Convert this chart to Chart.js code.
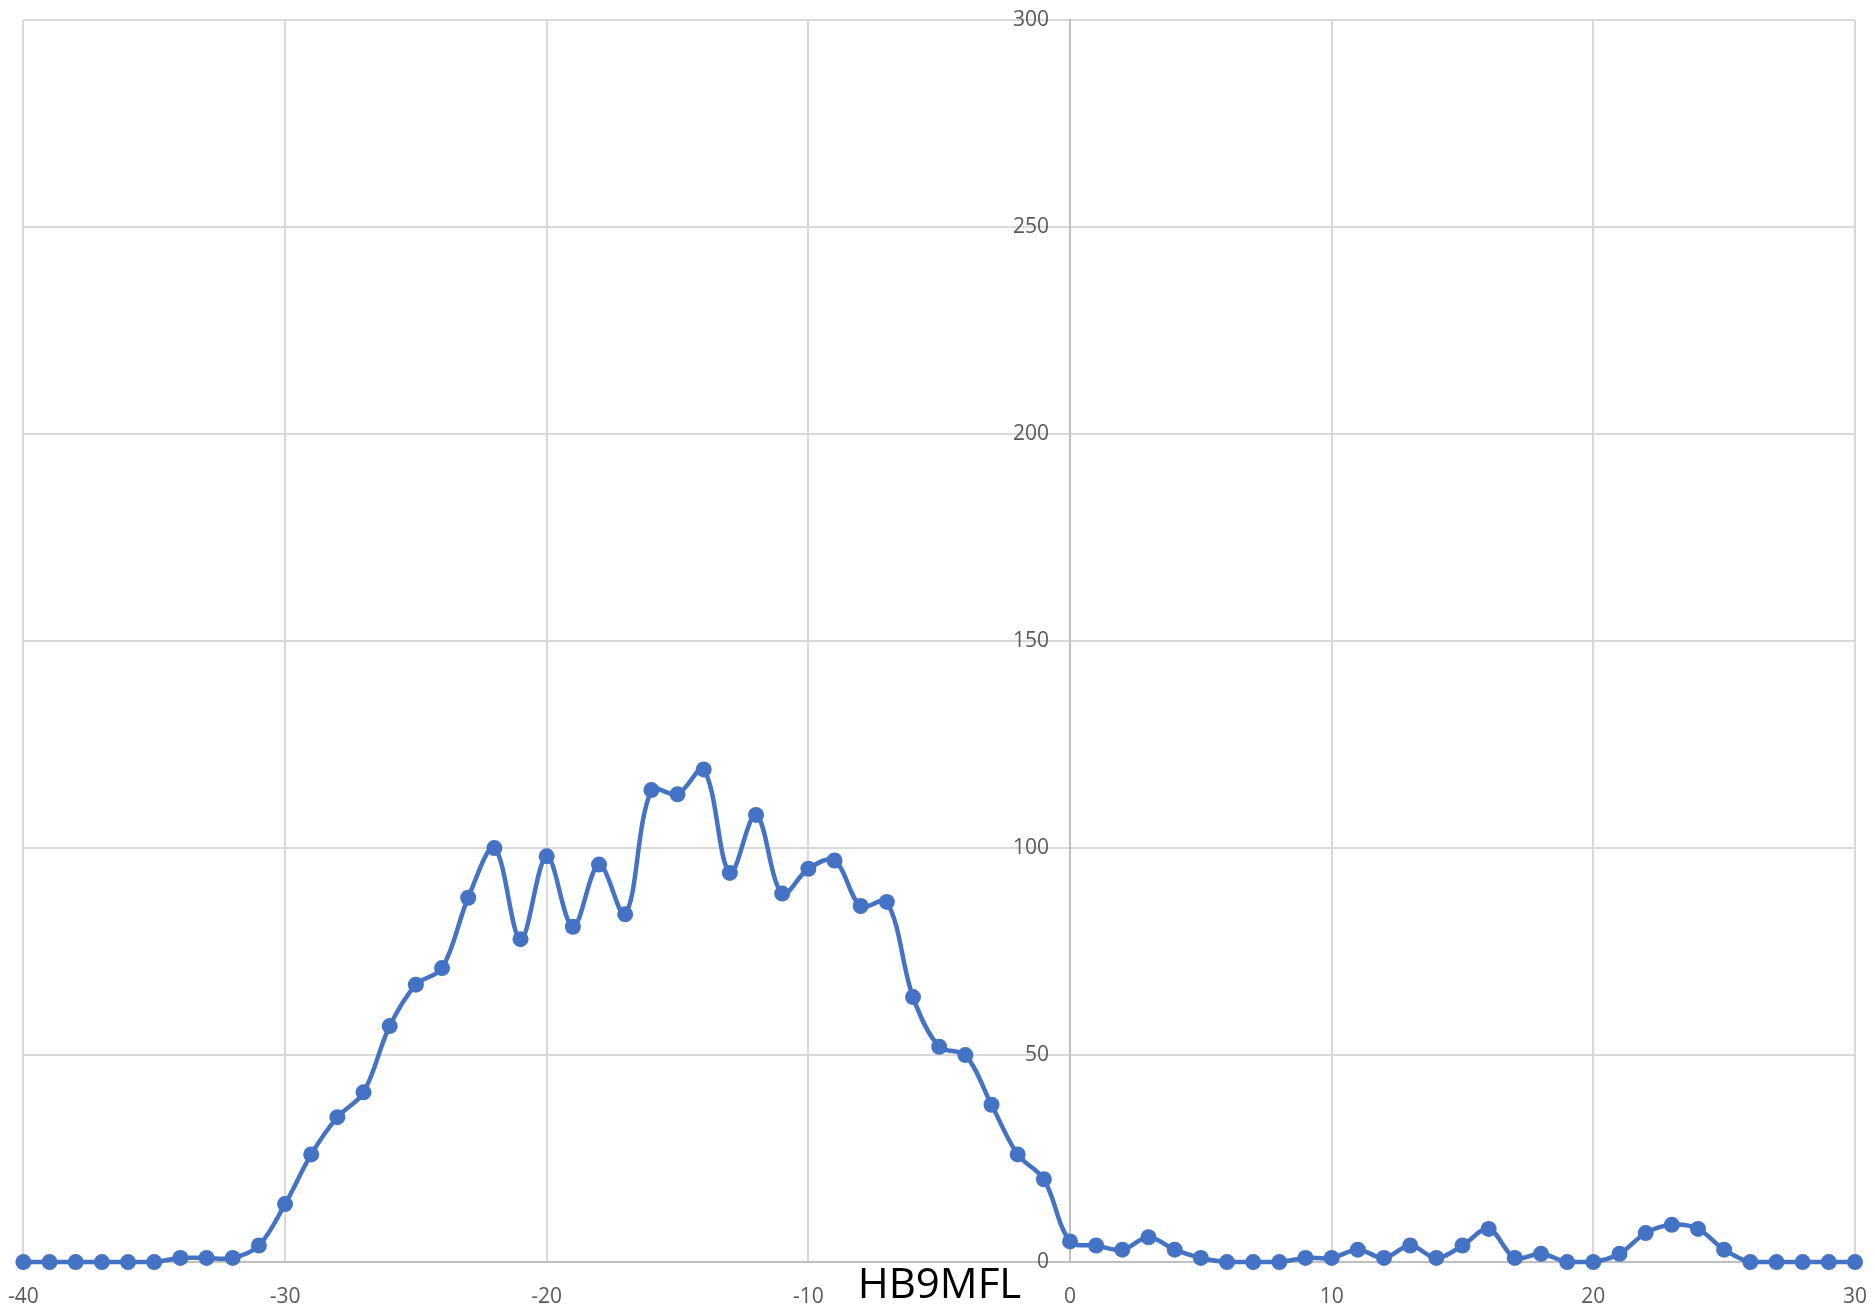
<!DOCTYPE html>
<html lang="en">
<head>
    <meta charset="UTF-8">
    <title>HB9MFL</title>
    <script src="https://cdn.jsdelivr.net/npm/chart.js"></script>
    <style>
        body { margin: 0; background: #fff; }
        #hb9mflChart { display: block; }
    </style>
</head>
<body>
    <canvas id="hb9mflChart" width="1875" height="1312"></canvas>
<script>
    // offset steps on the horizontal axis
    const offsets = [
        -40, -39, -38, -37, -36, -35, -34, -33, -32, -31,
        -30, -29, -28, -27, -26, -25, -24, -23, -22, -21,
        -20, -19, -18, -17, -16, -15, -14, -13, -12, -11,
        -10, -9, -8, -7, -6, -5, -4, -3, -2, -1,
        0, 1, 2, 3, 4, 5, 6, 7, 8, 9,
        10, 11, 12, 13, 14, 15, 16, 17, 18, 19,
        20, 21, 22, 23, 24, 25, 26, 27, 28, 29, 30
    ];
    // measured count at each offset
    const counts = [
        0, 0, 0, 0, 0, 0, 1, 1, 1, 4,
        14, 26, 35, 41, 57, 67, 71, 88, 100, 78,
        98, 81, 96, 84, 114, 113, 119, 94, 108, 89,
        95, 97, 86, 87, 64, 52, 50, 38, 26, 20,
        5, 4, 3, 6, 3, 1, 0, 0, 0, 1,
        1, 3, 1, 4, 1, 4, 8, 1, 2, 0,
        0, 2, 7, 9, 8, 3, 0, 0, 0, 0, 0
    ];
    const xTicks = [-40, -30, -20, -10, 0, 10, 20, 30];
    const yTicks = [0, 50, 100, 150, 200, 250, 300];

    const points = offsets.map((x, i) => ({ x: x, y: counts[i] }));
    const fontFamily = 'Open Sans, Liberation Sans, sans-serif';

    new Chart(document.getElementById('hb9mflChart').getContext('2d'), {
        type: 'line',
        data: {
            datasets: [{
                data: points,
                borderColor: '#4472c4',
                backgroundColor: '#4472c4',
                borderWidth: 4.5,
                pointRadius: 8,
                pointHoverRadius: 8,
                pointBorderWidth: 0,
                tension: 0.35,
                fill: false,
                clip: false
            }]
        },
        options: {
            responsive: false,
            animation: false,
            // bottom is negative so the title can share the tick label row
            layout: { autoPadding: false, padding: { left: 23, right: 19, top: 20, bottom: -19 } },
            plugins: {
                legend: { display: false },
                tooltip: { enabled: false },
                title: {
                    display: true,
                    text: 'HB9MFL',
                    position: 'bottom',
                    color: '#000',
                    font: { family: fontFamily, size: 42, weight: 'normal' },
                    padding: { top: -70, bottom: 0 }
                }
            },
            scales: {
                x: {
                    type: 'linear',
                    min: -40,
                    max: 30,
                    afterBuildTicks: axis => { axis.ticks = xTicks.map(v => ({ value: v })); },
                    grid: { color: '#d9d9d9', lineWidth: 2, drawTicks: false },
                    border: { color: '#bfbfbf', width: 2 },
                    ticks: {
                        color: '#595959',
                        font: { family: fontFamily, size: 21, lineHeight: 2.52 },
                        padding: 8,
                        maxRotation: 0
                    }
                },
                y: {
                    // axis line crosses at x = 0, labels sit just left of it
                    position: { x: 0 },
                    min: 0,
                    max: 300,
                    afterBuildTicks: axis => { axis.ticks = yTicks.map(v => ({ value: v })); },
                    grid: { color: '#d9d9d9', lineWidth: 2, drawTicks: false },
                    border: { color: '#bfbfbf', width: 2 },
                    ticks: {
                        color: '#595959',
                        font: { family: fontFamily, size: 21 },
                        padding: 0,
                        callback: v => v + '\u2002\u2002'
                    }
                }
            }
        }
    });
</script>
</body>
</html>
